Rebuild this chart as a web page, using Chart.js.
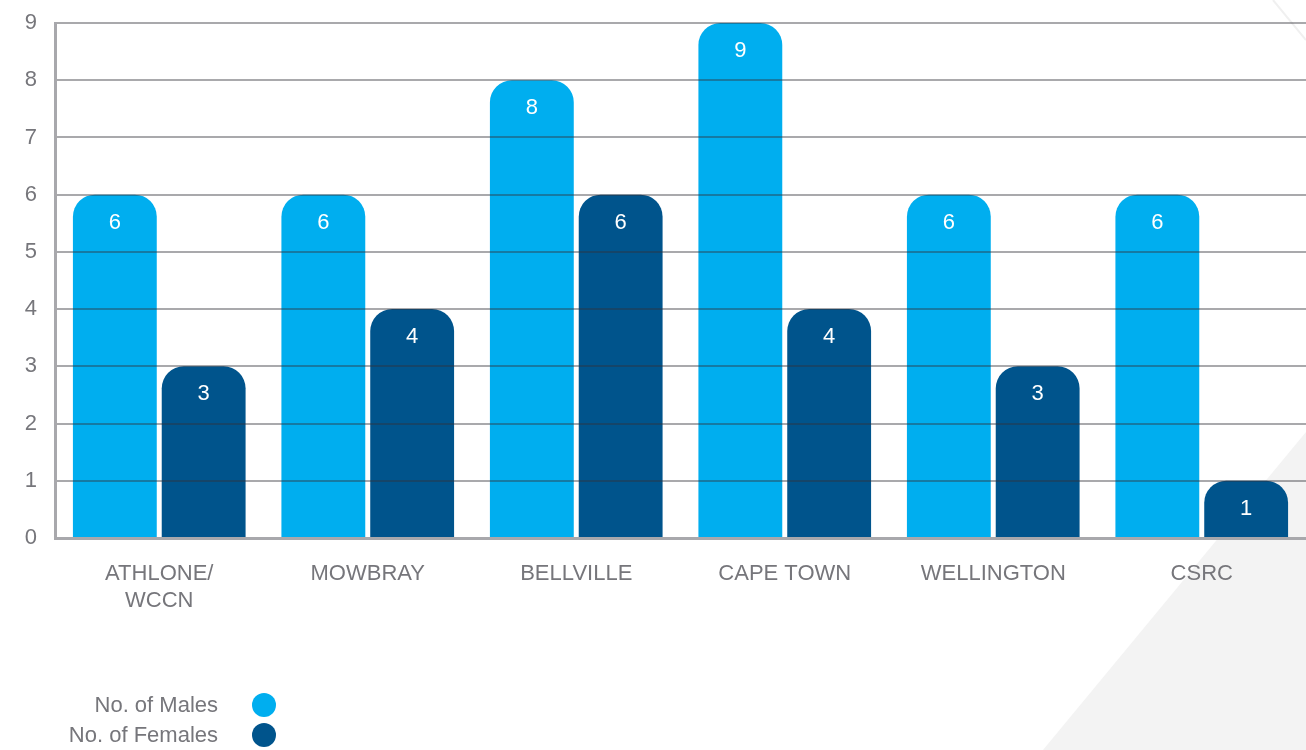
<!DOCTYPE html>
<html>
<head>
<meta charset="utf-8">
<script src="https://cdn.jsdelivr.net/npm/chart.js@4.4.1/dist/chart.umd.min.js"></script>
<style>
  html, body { margin: 0; padding: 0; background: #ffffff; }
  #wrap { width: 1306px; height: 750px; position: relative; }
</style>
</head>
<body>
<div id="wrap"><canvas id="c" width="1306" height="750"></canvas></div>
<script>
// Staff counts per campus
const categories = [['ATHLONE/', 'WCCN'], 'MOWBRAY', 'BELLVILLE', 'CAPE TOWN', 'WELLINGTON', 'CSRC'];
const males = [6, 6, 8, 9, 6, 6];
const females = [3, 4, 6, 4, 3, 1];
const seriesLabels = ['No. of Males', 'No. of Females'];
const yTickValues = [0, 1, 2, 3, 4, 5, 6, 7, 8, 9];

const MALE_BLUE = '#00aeef';
const FEMALE_BLUE = '#00548c';
const TEXT_GREY = '#76767b';
const AXIS_GREY = '#a8a8ac';
const FONT = '"Liberation Sans", Arial, Helvetica, sans-serif';

// White page with the light grey diagonal panel in the lower right corner
const backdrop = {
  id: 'backdrop',
  beforeDraw(chart) {
    const { ctx, width, height } = chart;
    ctx.save();
    ctx.fillStyle = '#ffffff';
    ctx.fillRect(0, 0, width, height);
    ctx.fillStyle = '#f3f3f3';
    ctx.beginPath();
    ctx.moveTo(1043, height);
    ctx.lineTo(width, 432);
    ctx.lineTo(width, height);
    ctx.closePath();
    ctx.fill();
    ctx.strokeStyle = '#f0f0f0';
    ctx.lineWidth = 2;
    ctx.beginPath();
    ctx.moveTo(1273, 0);
    ctx.lineTo(width, 40);
    ctx.stroke();
    ctx.restore();
  }
};

// White value captions near the top of every bar, plus the legend
const captions = {
  id: 'captions',
  afterDraw(chart) {
    const { ctx } = chart;
    ctx.save();
    ctx.font = '22px ' + FONT;
    ctx.fillStyle = '#ffffff';
    ctx.textAlign = 'center';
    ctx.textBaseline = 'middle';
    chart.data.datasets.forEach((ds, di) => {
      chart.getDatasetMeta(di).data.forEach((bar, i) => {
        ctx.fillText(String(ds.data[i]), bar.x, bar.y + 28);
      });
    });

    // legend: text right-aligned, swatch circle on its right
    const rows = [705, 735];
    ctx.font = '22px ' + FONT;
    ctx.textAlign = 'right';
    chart.data.datasets.forEach((ds, di) => {
      const y = rows[di];
      ctx.fillStyle = TEXT_GREY;
      ctx.fillText(ds.label, 218, y + 1);
      ctx.fillStyle = ds.backgroundColor;
      ctx.beginPath();
      ctx.arc(264, y, 12, 0, Math.PI * 2);
      ctx.fill();
    });
    ctx.restore();
  }
};

const barStyle = {
  borderRadius: { topLeft: 22, topRight: 22, bottomLeft: 0, bottomRight: 0 },
  borderSkipped: 'start',
  barPercentage: 0.944,
  categoryPercentage: 0.852
};

new Chart(document.getElementById('c'), {
  type: 'bar',
  data: {
    labels: categories,
    datasets: [
      Object.assign({ label: seriesLabels[0], data: males, backgroundColor: MALE_BLUE }, barStyle),
      Object.assign({ label: seriesLabels[1], data: females, backgroundColor: FEMALE_BLUE }, barStyle)
    ]
  },
  options: {
    responsive: false,
    animation: false,
    devicePixelRatio: 1,
    layout: { padding: { top: 23, right: 0, bottom: 0, left: 0 } },
    plugins: {
      legend: { display: false },
      tooltip: { enabled: false }
    },
    scales: {
      x: {
        grid: { display: false },
        border: { display: true, color: AXIS_GREY, width: 3, z: 1 },
        ticks: {
          color: TEXT_GREY,
          font: { family: FONT, size: 22, lineHeight: 1.25 },
          padding: 14,
          maxRotation: 0,
          autoSkip: false
        },
        afterFit(scale) { scale.height = 212; scale.paddingLeft = 0; scale.paddingRight = 0; }
      },
      y: {
        min: 0,
        max: 9,
        afterBuildTicks(scale) {
          scale.ticks = yTickValues.map(v => ({ value: v }));
        },
        grid: {
          z: 1,
          lineWidth: 2,
          drawTicks: false,
          color: ctx => ctx.tick && ctx.tick.value === 0 ? 'rgba(0,0,0,0)' : 'rgba(50,50,58,0.42)'
        },
        border: { display: true, color: AXIS_GREY, width: 3, z: 1 },
        ticks: {
          color: TEXT_GREY,
          font: { family: FONT, size: 22 },
          padding: 18
        },
        afterFit(scale) { scale.width = 55; scale.paddingTop = 0; scale.paddingBottom = 0; }
      }
    }
  },
  plugins: [backdrop, captions]
});
</script>
</body>
</html>
